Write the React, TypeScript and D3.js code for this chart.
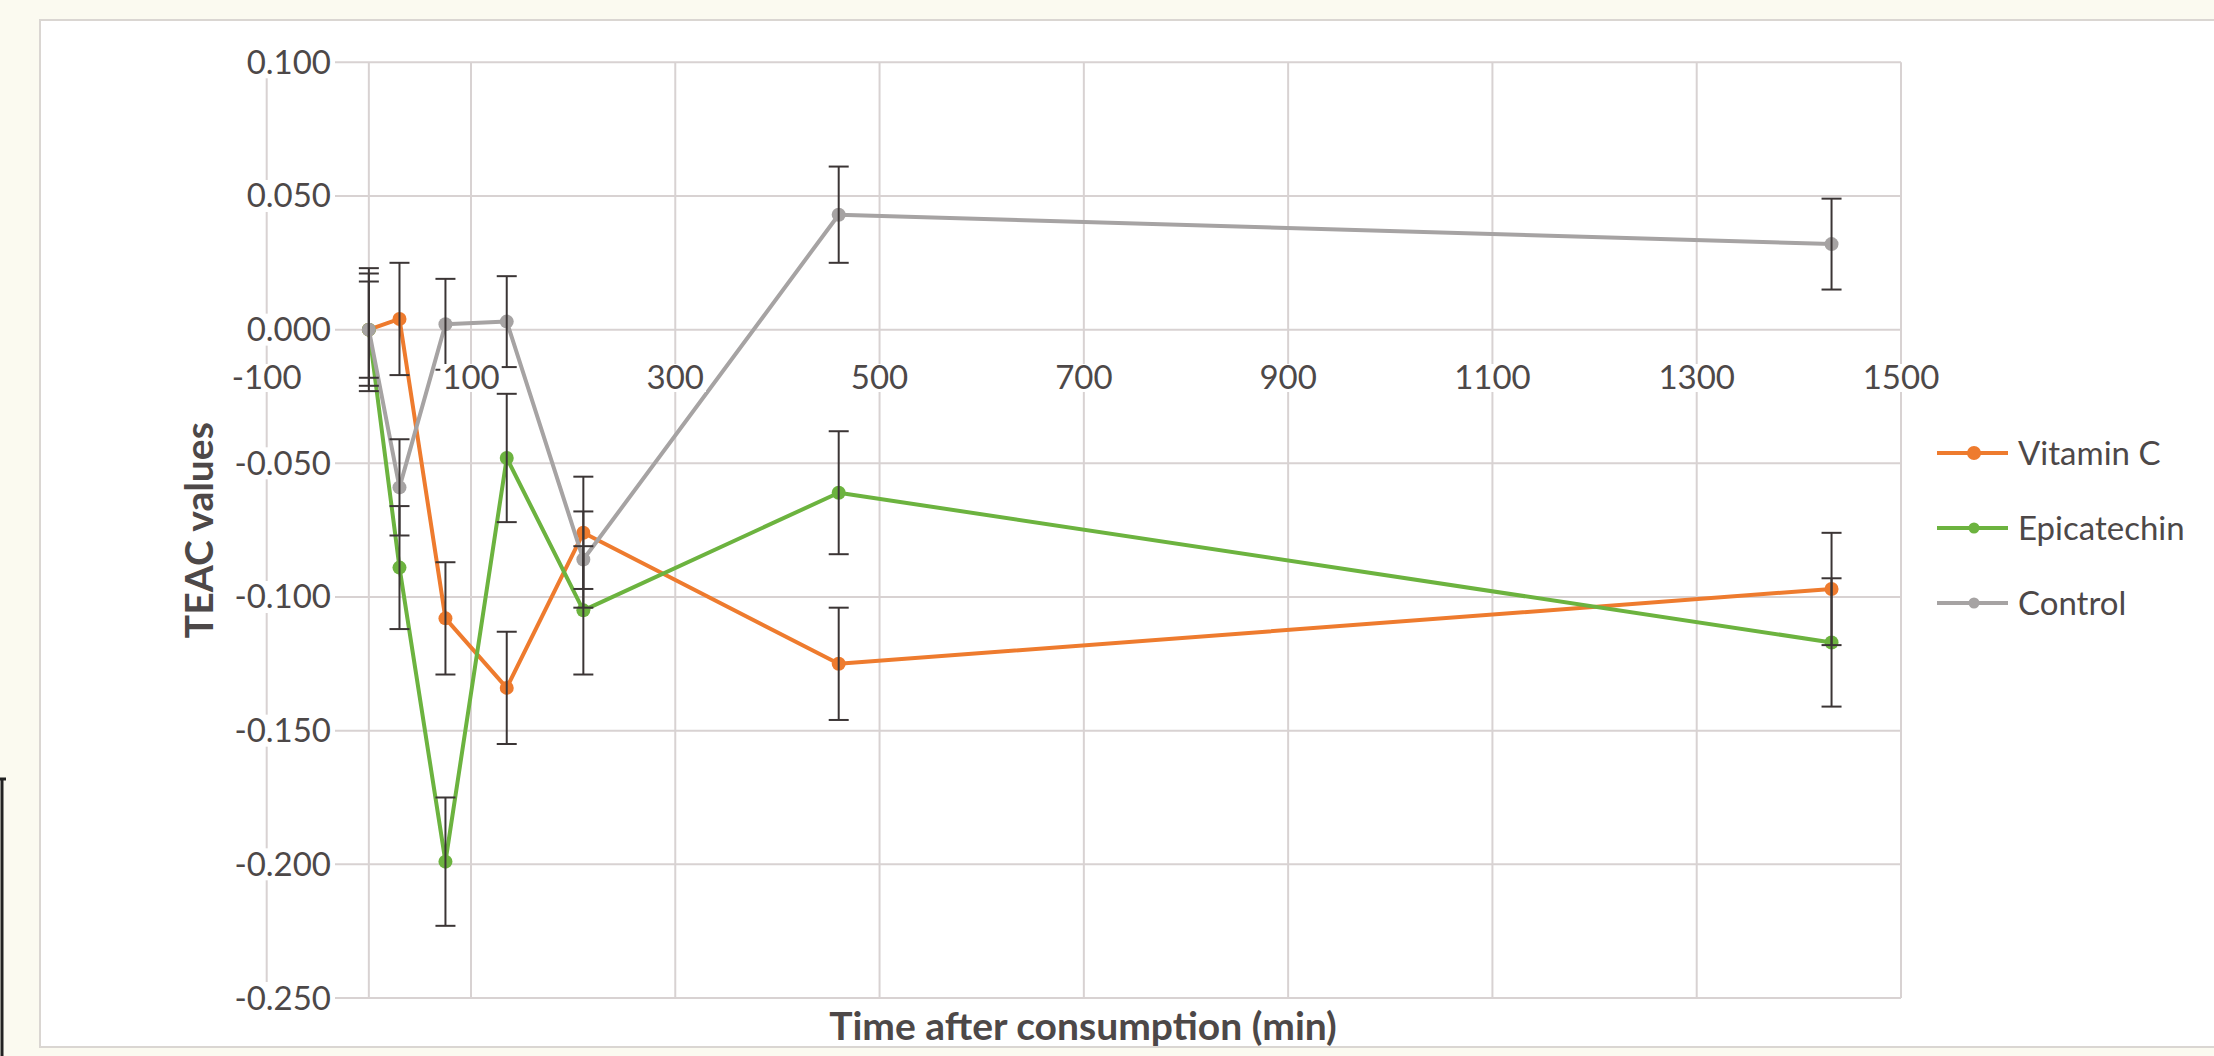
import React from "react";
import * as d3 from "d3";

// ---- data ----
const times = [0, 30, 75, 135, 210, 460, 1432];
const seriesNames = ["Vitamin C", "Epicatechin", "Control"];
const vitaminC = [0, 0.004, -0.108, -0.134, -0.076, -0.125, -0.097];
const vitaminCErr = [0.023, 0.021, 0.021, 0.021, 0.021, 0.021, 0.021];
const epicatechin = [0, -0.089, -0.199, -0.048, -0.105, -0.061, -0.117];
const epicatechinErr = [0.021, 0.023, 0.024, 0.024, 0.024, 0.023, 0.024];
const control = [0, -0.059, 0.002, 0.003, -0.086, 0.043, 0.032];
const controlErr = [0.018, 0.018, 0.017, 0.017, 0.018, 0.018, 0.017];
const xTicks = [-100, 100, 300, 500, 700, 900, 1100, 1300, 1500];
const yTicks = [0.1, 0.05, 0, -0.05, -0.1, -0.15, -0.2, -0.25];
const xTitle = "Time after consumption (min)";
const yTitle = "TEAC values";

const colors = ["#EE7B2E", "#6CB33F", "#A6A3A3"];
const W = 2214;
const H = 1056;
const FONT = "Lato, 'Open Sans', sans-serif";
const TEXT = "#4d4848";
const GRID = "#d8d2d2";

export default function App() {
  const x = d3.scaleLinear().domain([-100, 1500]).range([266.7, 1901]);
  const y = d3.scaleLinear().domain([-0.25, 0.1]).range([998, 62.3]);
  const values = [vitaminC, epicatechin, control];
  const errs = [vitaminCErr, epicatechinErr, controlErr];
  const line = d3
    .line<number>()
    .x((_, i) => x(times[i]))
    .y((d) => y(d));

  const fmtY = (v: number) => (Math.abs(v) < 1e-9 ? "0.000" : v.toFixed(3));
  const tickFs = 33;
  const digitW = tickFs * 0.58;

  return (
    <svg
      width={W}
      height={H}
      style={{ position: "absolute", left: 0, top: 0, background: "#fbfaf0" }}
    >
      {/* chart area */}
      <rect x={40} y={20} width={W} height={1027} fill="#ffffff" stroke="#dad6d2" strokeWidth={2} />
      {/* page artefact at left */}
      <path d="M0,779 H6 M2,779 V1056" stroke="#222" strokeWidth={3} fill="none" />

      {/* gridlines */}
      {yTicks.map((t) => (
        <line key={"gy" + t} x1={x(-100)} x2={x(1500)} y1={y(t)} y2={y(t)} stroke={GRID} strokeWidth={2} />
      ))}
      {xTicks.map((t) => (
        <line key={"gx" + t} x1={x(t)} x2={x(t)} y1={y(0.1)} y2={y(-0.25)} stroke={GRID} strokeWidth={2} />
      ))}
      {/* vertical axis at x = 0 */}
      <line x1={x(0)} x2={x(0)} y1={y(0.1)} y2={y(-0.25)} stroke={GRID} strokeWidth={2} />

      {/* series */}
      {values.map((vals, si) => (
        <g key={"s" + si}>
          <path d={line(vals) || ""} fill="none" stroke={colors[si]} strokeWidth={4} strokeLinejoin="round" />
          {vals.map((v, i) => (
            <circle key={i} cx={x(times[i])} cy={y(v)} r={7} fill={colors[si]} />
          ))}
        </g>
      ))}
      {/* error bars */}
      {values.map((vals, si) => (
        <g key={"e" + si} stroke="#3b3535" strokeWidth={2}>
          {vals.map((v, i) => {
            const cx = x(times[i]);
            const top = y(v + errs[si][i]);
            const bot = y(v - errs[si][i]);
            return (
              <g key={i}>
                <line x1={cx} x2={cx} y1={top} y2={bot} />
                <line x1={cx - 10} x2={cx + 10} y1={top} y2={top} />
                <line x1={cx - 10} x2={cx + 10} y1={bot} y2={bot} />
              </g>
            );
          })}
        </g>
      ))}

      {/* y tick labels */}
      {yTicks.map((t) => {
        const s = fmtY(t);
        const w = s.length * digitW * 0.92;
        return (
          <g key={"ly" + t}>
            <rect x={331 - w - 4} y={y(t) - 16} width={w + 8} height={32} fill="#ffffff" />
            <text x={331} y={y(t) + 11.5} textAnchor="end" fontFamily={FONT} fontSize={tickFs} fill={TEXT}>
              {s}
            </text>
          </g>
        );
      })}
      {/* x tick labels */}
      {xTicks.map((t) => {
        const s = String(t);
        const w = s.length * digitW;
        return (
          <g key={"lx" + t}>
            <rect x={x(t) - w / 2 - 2} y={364} width={w + 4} height={28} fill="#ffffff" />
            <text x={x(t)} y={389} textAnchor="middle" fontFamily={FONT} fontSize={tickFs} fill={TEXT}>
              {s}
            </text>
          </g>
        );
      })}

      {/* axis titles */}
      <text x={1083} y={1040} textAnchor="middle" fontFamily={FONT} fontWeight="bold" fontSize={39} fill={TEXT}>
        {xTitle}
      </text>
      <text
        transform={`translate(213, ${(y(0.1) + y(-0.25)) / 2}) rotate(-90)`}
        textAnchor="middle"
        fontFamily={FONT}
        fontWeight="bold"
        fontSize={39}
        fill={TEXT}
      >
        {yTitle}
      </text>

      {/* legend */}
      {seriesNames.map((n, i) => {
        const ly = 453 + i * 75;
        return (
          <g key={"lg" + n}>
            <line x1={1937} x2={2008} y1={ly} y2={ly} stroke={colors[i]} strokeWidth={4} />
            <circle cx={1974} cy={ly} r={i === 0 ? 7 : 5.5} fill={colors[i]} />
            <text x={2018} y={ly + 12} fontFamily={FONT} fontSize={tickFs} fill={TEXT}>
              {n}
            </text>
          </g>
        );
      })}
    </svg>
  );
}
